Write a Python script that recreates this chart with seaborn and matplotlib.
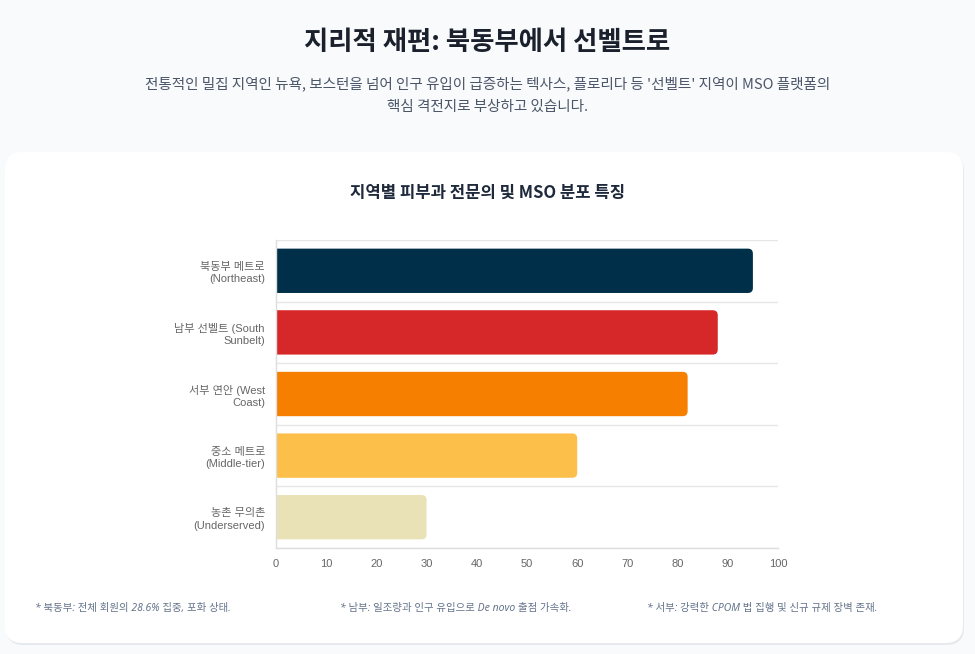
import numpy as np
import pandas as pd
import matplotlib
matplotlib.use("Agg")
import matplotlib.pyplot as plt
from matplotlib.patches import FancyBboxPatch, PathPatch
from matplotlib.path import Path
import seaborn as sns

# data
regions = ["북동부 메트로\n(Northeast)", "남부 선벨트 (South\nSunbelt)", "서부 연안 (West\nCoast)",
           "중소 메트로\n(Middle-tier)", "농촌 무의촌\n(Underserved)"]
scores = [95, 88, 82, 60, 30]
colors = ["#003049", "#d62828", "#f77f00", "#fcbf49", "#eae2b7"]
notes = ["* 북동부: 전체 회원의 28.6% 집중, 포화 상태.",
         "* 남부: 일조량과 인구 유입으로 De novo 출점 가속화.",
         "* 서부: 강력한 CPOM 법 집행 및 신규 규제 장벽 존재."]

df = pd.DataFrame({"region": regions, "score": scores})

sns.set_theme(style="white")
plt.rcParams['font.family'] = ['Noto Sans CJK KR', 'DejaVu Sans']
tick_fonts = ['Liberation Sans', 'Noto Sans CJK KR']

fig = plt.figure(figsize=(9.75, 6.54), dpi=100)
fig.patch.set_facecolor("#f8fafc")

# card background with soft shadow
W, H = 975, 654
shadow = FancyBboxPatch((6 / W, 1 - 645 / H), 958 / W, 491 / H, transform=fig.transFigure,
                        boxstyle="round,pad=0,rounding_size=0.018", mutation_aspect=W / H,
                        facecolor="#e6e9ee", edgecolor="none", zorder=-2)
card = FancyBboxPatch((5 / W, 1 - 643 / H), 958 / W, 491 / H, transform=fig.transFigure,
                      boxstyle="round,pad=0,rounding_size=0.018", mutation_aspect=W / H,
                      facecolor="white", edgecolor="none", zorder=-1)
fig.patches.extend([shadow, card])

fig.text(0.5, 1 - 42 / H, "지리적 재편: 북동부에서 선벨트로", ha="center", va="center",
         fontsize=19, fontweight="bold", color="#1a202c")
fig.text(0.5, 1 - 95 / H, "전통적인 밀집 지역인 뉴욕, 보스턴을 넘어 인구 유입이 급증하는 텍사스, 플로리다 등 '선벨트' 지역이 MSO 플랫폼의\n핵심 격전지로 부상하고 있습니다.",
         ha="center", va="center", fontsize=10.5, color="#4a5568", linespacing=1.75)
fig.text(0.5, 1 - 193 / H, "지역별 피부과 전문의 및 MSO 분포 특징", ha="center", va="center",
         fontsize=12, fontweight="bold", color="#1e293b")

ax = fig.add_axes([276 / W, 1 - 548 / H, 502 / W, 308 / H])
ax.set_facecolor("none")
sns.barplot(data=df, x="score", y="region", hue="region", palette=colors, legend=False,
            width=0.72, ax=ax, saturation=1)

# swap the bars for ones with rounded right ends
px_per_x = 502 / 100
px_per_y = 308 / 5
rx = 5 / px_per_x
ry = 5 / px_per_y
for p, c in zip(list(ax.patches), colors):
    x0, y0, w, h = p.get_x(), p.get_y(), p.get_width(), p.get_height()
    x1, y1 = x0 + w, y0 + h
    p.remove()
    verts = [(x0, y0), (x1 - rx, y0), (x1, y0), (x1, y0 + ry), (x1, y1 - ry), (x1, y1),
             (x1 - rx, y1), (x0, y1), (x0, y0)]
    codes = [Path.MOVETO, Path.LINETO, Path.CURVE3, Path.CURVE3, Path.LINETO, Path.CURVE3,
             Path.CURVE3, Path.LINETO, Path.CLOSEPOLY]
    ax.add_patch(PathPatch(Path(verts, codes), facecolor=c, edgecolor="none", zorder=2))

ax.set_xlim(0, 100)
ax.set_ylim(4.5, -0.5)
ax.set_xticks(np.arange(0, 101, 10))
ax.set_yticks(range(5))
ax.set_yticks(np.arange(-0.5, 4.6, 1), minor=True)
ax.grid(which="minor", axis="y", color="#e6e6e6", linewidth=1)
ax.grid(which="major", visible=False)
ax.tick_params(axis="both", which="both", length=0, labelsize=8, labelcolor="#666666")
ax.tick_params(axis="x", pad=8)
ax.tick_params(axis="y", pad=8)
for lab in ax.get_xticklabels() + ax.get_yticklabels():
    lab.set_family(tick_fonts)
for lab in ax.get_yticklabels():
    lab.set_linespacing(1.3)
ax.set_xlabel("")
ax.set_ylabel("")
for s in ["top", "right"]:
    ax.spines[s].set_visible(False)
for s in ["left", "bottom"]:
    ax.spines[s].set_color("#dddddd")
    ax.spines[s].set_linewidth(1)

for xpos, note in zip([35, 340, 647], notes):
    fig.text(xpos / W, 1 - 608 / H, note, ha="left", va="center", fontsize=7.5,
             style="italic", color="#64748b", family=['Noto Sans', 'Noto Sans CJK KR'])

fig.savefig("out.png", dpi=100, facecolor=fig.get_facecolor())
